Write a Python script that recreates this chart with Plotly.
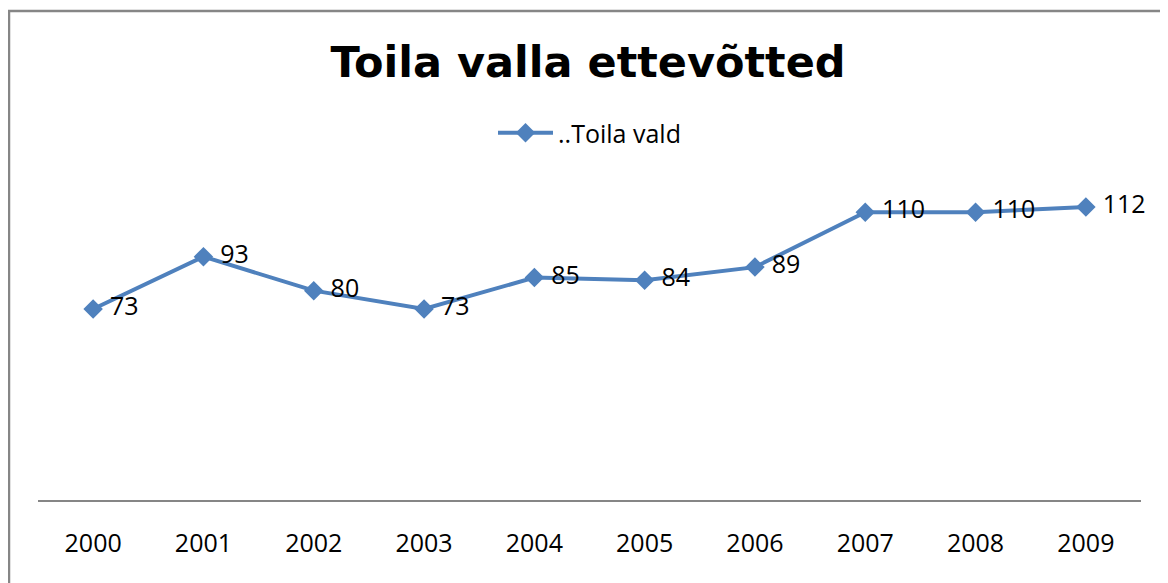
import plotly.graph_objects as go

years = ["2000", "2001", "2002", "2003", "2004", "2005", "2006", "2007", "2008", "2009"]
values = [73, 93, 80, 73, 85, 84, 89, 110, 110, 112]
series_name = "..Toila vald"
title_text = "Toila valla ettevõtted"

OFF = 8  # page body margin offset
W, H = 1168 - OFF, 583 - OFF
L, R, T, B = 38 - OFF, 27, 186 - OFF, 83
pw = W - L - R
ph = H - T - B

def px_x(x):
    return (x - OFF - L) / pw

def px_y(y):
    return (H - B - (y - OFF)) / ph

fig = go.Figure()
fig.add_trace(go.Scatter(
    x=years, y=values, name=series_name,
    mode="lines+markers+text",
    line=dict(color="#4F81BD", width=4),
    marker=dict(symbol="diamond", size=15, color="#4F81BD"),
    text=[" " + str(v) for v in values],
    textposition="middle right",
    textfont=dict(family="Open Sans", size=25, color="#000000"),
    cliponaxis=False,
))

fig.update_layout(
    width=W, height=H,
    margin=dict(l=L, r=R, t=T, b=B),
    paper_bgcolor="white", plot_bgcolor="white",
    title=dict(text="<b>" + title_text + "</b>", x=(588 - OFF) / W,
               xanchor="center", y=1 - (62 - OFF) / H, yanchor="middle",
               font=dict(family="DejaVu Sans", size=43, color="#000000")),
    legend=dict(orientation="h", x=0.5, xanchor="center", y=px_y(133), yanchor="middle",
                font=dict(family="Open Sans", size=25, color="#000000"),
                bgcolor="rgba(0,0,0,0)", itemwidth=55),
    showlegend=True,
    xaxis=dict(type="category", range=[-0.5, 9.5], showline=True, linecolor="#868686",
               linewidth=1.5, ticks="", showgrid=False, zeroline=False,
               ticklabelstandoff=20,
               tickfont=dict(family="Open Sans", size=25, color="#000000")),
    yaxis=dict(range=[0, 120], visible=False, showgrid=False, zeroline=False),
    shapes=[dict(type="rect", xref="paper", yref="paper",
                 x0=px_x(9), x1=px_x(1185), y0=px_y(600), y1=px_y(11),
                 line=dict(color="#868686", width=2.5), fillcolor="rgba(0,0,0,0)")],
)

fig.write_html("out.html")
